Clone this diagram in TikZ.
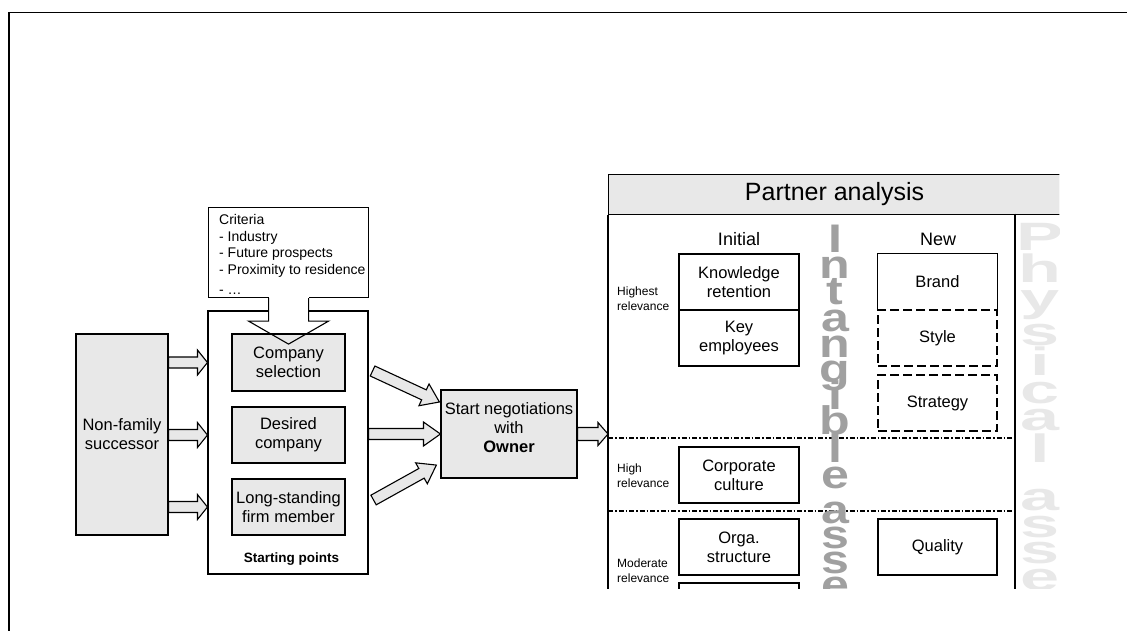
\documentclass[tikz,border=0pt]{standalone}
\usepackage{fontspec}
\usepackage{graphicx}
\setmainfont{Liberation Sans}
\usetikzlibrary{calc}
\definecolor{boxfill}{HTML}{E8E8E8}
\definecolor{intang}{HTML}{A0A0A0}
\definecolor{phys}{HTML}{E8E8E8}
\newcommand{\fsz}[2]{\fontsize{#1}{#2}\selectfont}
% block arrow: start, end, shaft half width, head half width, head length
\newcommand{\blockarrow}[5]{%
  \path[barrow] let \p1=#1, \p2=#2,
    \n1={atan2(\y2-\y1,\x2-\x1)}, \n2={veclen(\x2-\x1,\y2-\y1)} in
    [shift={(\p1)}, rotate=\n1]
    (0,#3) -- ({\n2-#5},#3) -- ({\n2-#5},#4) -- (\n2,0) -- ({\n2-#5},-#4)
    -- ({\n2-#5},-#3) -- (0,-#3) -- cycle;
}
\newcommand{\ilt}[1]{\scalebox{1.32}[1.05]{#1}}
\newcommand{\plt}[1]{\scalebox{1.95}[1.1]{#1}}
\begin{document}
\begin{tikzpicture}[x=1pt,y=-1pt,
  box/.style={draw, line width=1.1pt, inner sep=0pt, align=center, font=\fsz{16.5}{19}},
  gbox/.style={box, fill=boxfill},
  dbox/.style={box, dash pattern=on 9pt off 4pt, line width=2.2pt},
  barrow/.style={draw, fill=boxfill, line width=1.1pt, line join=miter},
  rel/.style={anchor=west, align=left, inner sep=0pt, font=\fsz{12}{15}},
  colhead/.style={inner sep=0pt, font=\fsz{18}{20}},
  intl/.style={anchor=base, inner sep=0pt, text=intang, font=\fsz{38}{38}\bfseries},
  phl/.style={anchor=base, inner sep=0pt, text=phys, font=\fsz{36}{36}\bfseries},
  dashdotline/.style={line width=1.4pt, dash pattern=on 5pt off 2pt on 1.5pt off 2pt}
]
\useasboundingbox (0,0) rectangle (1127,630);
% outer frame
\draw[line width=1.8pt] (9,631) -- (9,12.5) -- (1128,12.5);

% left part
\node[gbox, minimum width=92, minimum height=201] (nfs) at (122,434.5) {Non-family\\successor};
\node[draw, line width=1.1pt, minimum width=160, minimum height=90, anchor=north west, inner sep=0pt] (crit) at (208,207) {};
\node[anchor=north west, align=left, inner sep=0pt, font=\fsz{14}{16.5}] (crittext) at (219,214.5)
  {Criteria\\- Industry\\- Future prospects\\- Proximity to residence\\[3.5pt]- …};
\node[draw, line width=1.1pt, minimum width=160, minimum height=263, inner sep=0pt] (sp) at (288,442.5) {};
\node[anchor=base, inner sep=0pt, font=\fsz{13.5}{15}\bfseries] (sptext) at (291.5,562) {Starting points};
% break lines for criteria arrow
\fill[white] ($(crit.south)+(-20,-1)$) rectangle ($(crit.south)+(20,24)$);
\node[gbox, minimum width=113, minimum height=57] (cs) at (288.5,362.5) {Company\\selection};
\node[gbox, minimum width=113, minimum height=56] (dc) at (288.5,435) {Desired\\company};
\node[gbox, minimum width=113, minimum height=56] (ls) at (288.5,507) {Long-standing\\firm member};
\draw[line width=1.1pt, line join=miter] ($(crit.south)+(-20,0)$) -- ++(0,23) -- ++(-20,0) -- ($(crit.south)+(0,46)$)
  -- ($(crit.south)+(40,23)$) -- ++(-20,0) -- ($(crit.south)+(20,0)$);

\node[gbox, minimum width=136, minimum height=88, text depth=12pt] (neg) at (509,434) {Start negotiations\\with\\\textbf{Owner}};

% arrows successor -> starting points
\blockarrow{(nfs.east |- cs.center)}{(sp.west |- cs.center)}{5.5}{12.5}{10}
\blockarrow{(nfs.east |- dc.center)}{(sp.west |- dc.center)}{5.5}{12.5}{10}
\blockarrow{(nfs.east |- ls.center)}{(sp.west |- ls.center)}{5.5}{12.5}{10}
% arrows starting points -> negotiations
\coordinate (d1s) at ($(sp.east)+(4,-71.5)$);
\coordinate (d1e) at ($(neg.west)+(-1,-32)$);
\coordinate (d3s) at ($(sp.east)+(5,57.5)$);
\coordinate (d3e) at ($(neg.west)+(-4,31)$);
\blockarrow{(d1s)}{(d1e)}{5.5}{12}{17}
\blockarrow{(sp.east |- neg.west)}{(neg.west)}{5.5}{12}{17}
\blockarrow{(d3s)}{(d3e)}{5.5}{12}{17}

% partner analysis panel
\begin{scope}
\clip (600,168) rectangle (1059.3,588);
\node[draw, fill=boxfill, line width=1.1pt, minimum width=452, minimum height=40, anchor=north west, inner sep=0pt,
  font=\fsz{25}{28}] (pa) at (608,173.5) {Partner analysis};
\coordinate (prt) at (1015,213.5);
\draw[line width=1.1pt] (pa.south west) -- ++(0,400);
\draw[line width=1.1pt] (prt) -- ++(0,400);
\draw[dashdotline] (pa.west |- 0,438) -- (prt |- 0,438);
\draw[dashdotline] (pa.west |- 0,511) -- (prt |- 0,511);

\node[colhead] (ini) at (739,239.5) {Initial};
\node[colhead] (new) at (938,239.5) {New};

\node[rel] (r1) at (617,299) {Highest\\relevance};
\node[rel] (r2) at (617,476) {High\\relevance};
\node[rel] (r3) at (617,571) {Moderate\\relevance};

\node[box, minimum width=120, minimum height=56] (kr) at (739,282) {Knowledge\\retention};
\node[box, minimum width=120, minimum height=56] (ke) at (739,338) {Key\\employees};
\node[box, minimum width=120, minimum height=56] (cc) at (739,475) {Corporate\\culture};
\node[box, minimum width=120, minimum height=56] (os) at (739,547) {Orga.\\structure};
\node[box, minimum width=120, minimum height=56] (ex) at (739,611) {};

\node[box, draw=none, minimum width=119, minimum height=56] (br) at (937.5,282) {Brand};
\draw[line width=1.1pt] (br.south west) -- (br.north west) -- (br.north east) -- (br.south east);
\node[dbox, minimum width=119, minimum height=56] (st) at (937.5,338) {Style};
\node[dbox, minimum width=119, minimum height=56] (sg) at (937.5,403) {Strategy};
\node[box, minimum width=119, minimum height=56] (qu) at (937.5,547) {Quality};

% vertical lettering
\foreach \l/\yy [count=\k] in {I/252, n/278, t/304, a/331, n/357, g/382, i/409, b/434, l/462, e/488, a/523, s/548, s/573, e/598}
  \node[intl] (ia\k) at (835,\yy) {\ilt{\l}};
\foreach \l/\yy [count=\k] in {P/250, h/282, y/311, s/345, i/375, c/403, a/430, l/462, a/510, s/537, s/563, e/590, t/614}
  \node[phl] (pa\k) at (1040,\yy) {\plt{\l}};
\end{scope}

% arrow negotiations -> partner analysis
\blockarrow{(neg.east)}{(pa.west |- neg.east)}{6.5}{11.5}{10}
\end{tikzpicture}
\end{document}
